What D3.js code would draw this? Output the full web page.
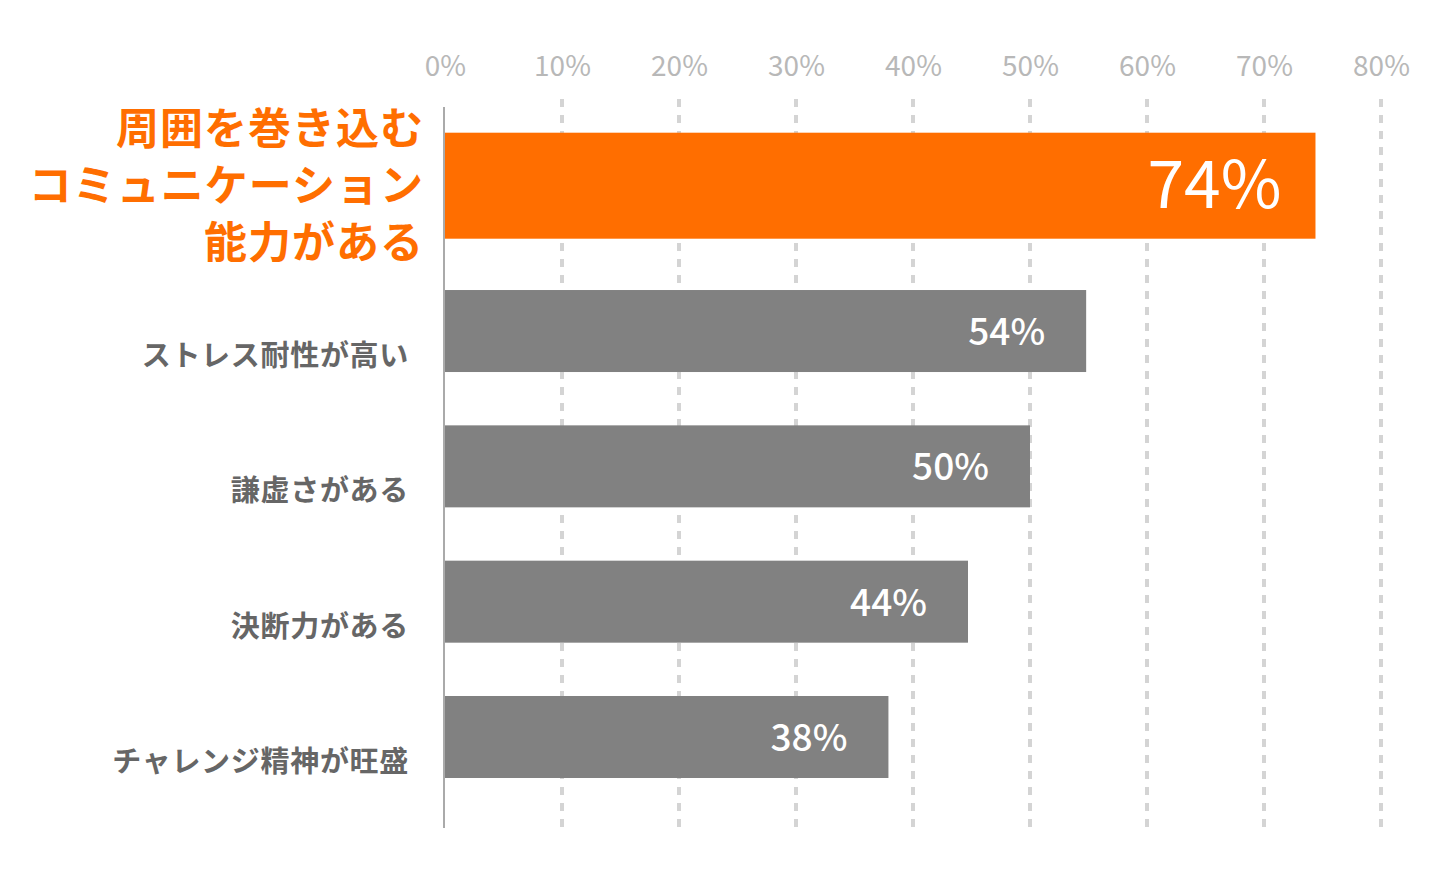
<!DOCTYPE html>
<html>
<head>
<meta charset="utf-8">
<script src="https://cdn.jsdelivr.net/npm/d3@7"></script>
<style>
  body { margin: 0; background: #fff; }
  text { font-family: "Noto Sans CJK JP", "Noto Sans", sans-serif; }
</style>
</head>
<body>
<div id="chart"></div>
<script>
var categories = [
  ["周囲を巻き込む", "コミュニケーション", "能力がある"],
  ["ストレス耐性が高い"],
  ["謙虚さがある"],
  ["決断力がある"],
  ["チャレンジ精神が旺盛"]
];
var values = [74.4, 54.8, 50.0, 44.7, 37.9];
var valueLabels = ["74%", "54%", "50%", "44%", "38%"];
var tickValues = [0, 10, 20, 30, 40, 50, 60, 70, 80];

var svgWidth = 1454;
var svgHeight = 884;

var svg = d3.select("#chart")
  .append("svg")
  .attr("width", svgWidth)
  .attr("height", svgHeight);

var idx = d3.range(values.length);

// scales
var x = d3.scaleLinear()
  .domain([0, 80])
  .range([445, 1381]);

var y = d3.scalePoint()
  .domain(idx)
  .range([195.7, 737]);

var barH = 82;
var hiH = 106;
var hiShift = -10;

// top axis labels
var topAxis = d3.axisTop(x)
  .tickValues(tickValues)
  .tickFormat(d => d + "%")
  .tickSize(0)
  .tickPadding(0);

var axisG = svg.append("g")
  .attr("transform", "translate(0,76)")
  .call(topAxis);
axisG.select(".domain").remove();
axisG.selectAll("text")
  .attr("fill", "#b8b8b8")
  .attr("font-size", "28px")
  .attr("dy", 0);

// dashed grid lines
svg.append("g")
  .selectAll("line")
  .data(tickValues.filter(d => d > 0))
  .enter()
  .append("line")
  .attr("x1", d => x(d))
  .attr("x2", d => x(d))
  .attr("y1", 99)
  .attr("y2", 828)
  .attr("stroke", "#d4d4d4")
  .attr("stroke-width", 4)
  .attr("stroke-dasharray", "8,8");

// bars
svg.append("g")
  .selectAll("rect")
  .data(idx)
  .enter()
  .append("rect")
  .attr("x", x(0))
  .attr("y", i => i === 0 ? y(i) + hiShift - hiH / 2 : y(i) - barH / 2)
  .attr("width", i => x(values[i]) - x(0))
  .attr("height", i => i === 0 ? hiH : barH)
  .attr("fill", i => i === 0 ? "#ff6e00" : "#818181");

// y axis line
svg.append("line")
  .attr("x1", x(0) - 1)
  .attr("x2", x(0) - 1)
  .attr("y1", 107)
  .attr("y2", 828)
  .attr("stroke", "#aaa")
  .attr("stroke-width", 2);

// value labels
svg.append("g")
  .selectAll("text")
  .data(idx)
  .enter()
  .append("text")
  .attr("x", i => x(values[i]) - (i === 0 ? 34 : 41))
  .attr("y", i => i === 0 ? y(i) + hiShift + 22 : y(i) + 14)
  .attr("text-anchor", "end")
  .attr("fill", "#fff")
  .attr("font-size", i => i === 0 ? "66px" : "37px")
  .attr("font-weight", i => i === 0 ? 400 : 500)
  .text(i => valueLabels[i]);

// category labels
var labelG = svg.append("g");
idx.forEach(function(i) {
  var lines = categories[i];
  if (i === 0) {
    lines.forEach(function(t, j) {
      labelG.append("text")
        .attr("x", 424)
        .attr("y", y(i) + hiShift + 15 + (j - 1) * 57)
        .attr("text-anchor", "end")
        .attr("fill", "#ff6e00")
        .attr("font-size", "43px")
        .attr("font-weight", 700)
        .attr("letter-spacing", "1px")
        .text(t);
    });
  } else {
    labelG.append("text")
      .attr("x", 409)
      .attr("y", y(i) + 35)
      .attr("text-anchor", "end")
      .attr("fill", "#666")
      .attr("font-size", "29px")
      .attr("font-weight", 700)
      .attr("letter-spacing", "0.7px")
      .text(lines[0]);
  }
});
</script>
</body>
</html>
